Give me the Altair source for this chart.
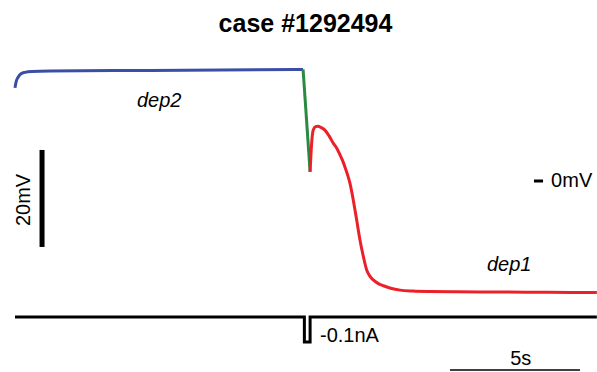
import altair as alt
import pandas as pd

# ---- voltage trace (time in s, membrane potential in mV) ----
blue_t = [0.0, 0.04, 0.12, 0.23, 0.38, 0.65, 1.35, 5.2, 11.08]
blue_v = [19.2, 20.4, 21.4, 22.1, 22.4, 22.6, 22.7, 22.8, 23.0]
green_t = [11.08, 11.35]
green_v = [23.0, 1.9]
red_t = [11.35, 11.41, 11.47, 11.56, 11.65, 11.78, 11.92, 12.08, 12.24, 12.38, 12.5, 12.6,
         12.69, 12.79, 12.88, 13.01, 13.14, 13.27, 13.4, 13.53, 13.65, 13.78, 13.96,
         14.17, 14.45, 14.81, 15.3, 15.96, 17.0, 18.65, 20.5, 22.38]
red_v = [1.9, 7.8, 10.5, 11.2, 11.3, 11.0, 10.5, 9.3, 7.8, 6.7, 5.4, 4.2,
         2.9, 1.3, -0.4, -3.9, -8.0, -12.2, -15.6, -18.4, -19.6, -20.4, -21.1,
         -21.6, -22.1, -22.5, -22.7, -22.8, -22.85, -22.9, -22.95, -23.0]

# ---- injected current (nA) ----
cur_t = [0.0, 11.13, 11.13, 11.35, 11.35, 22.38]
cur_i = [0.0, 0.0, -0.1, -0.1, 0.0, 0.0]

# ---- scale bars / labels ----
mv_bar_t = 1.04
mv_bar_v = [6.4, -13.6]
zero_tick_t = [19.96, 20.31]
sbar_t = [16.73, 21.73]
sbar_i = -0.212

seg_names = ["dep2", "step", "dep1"]
seg_colors = ["#3a4ea6", "#2a8a40", "#ec2028"]

rows = []
k = 0
for name, ts, vs in zip(seg_names, [blue_t, green_t, red_t], [blue_v, green_v, red_v]):
    for t, v in zip(ts, vs):
        rows.append({"t": t, "v": v, "seg": name, "k": k})
        k += 1
vdf = pd.DataFrame(rows)
cdf = pd.DataFrame({"t": cur_t, "i": cur_i, "k": list(range(len(cur_t)))})

W, H = 597, 327
xs = alt.Scale(domain=[-0.577, 22.385], nice=False, zero=False)
vsc = alt.Scale(domain=[-39.38, 28.04], nice=False, zero=False)
isc = alt.Scale(domain=[-0.22, 1.088], nice=False, zero=False)
FONT = "Liberation Sans"
FS = 20

X = lambda f: alt.X(f, type="quantitative", scale=xs, axis=None)
YV = lambda f: alt.Y(f, type="quantitative", scale=vsc, axis=None)
YI = lambda f: alt.Y(f, type="quantitative", scale=isc, axis=None)

volt = alt.Chart(vdf).mark_line(strokeWidth=3, interpolate="monotone").encode(
    x=X("t"), y=YV("v"),
    color=alt.Color("seg:N", scale=alt.Scale(domain=seg_names, range=seg_colors), legend=None),
    detail="seg:N",
    order="k:Q",
)

mvbar = alt.Chart(pd.DataFrame({"t": [mv_bar_t], "v1": [mv_bar_v[0]], "v2": [mv_bar_v[1]]})).mark_rule(
    strokeWidth=5, color="black").encode(x=X("t"), y=YV("v1"), y2="v2")

ztick = alt.Chart(pd.DataFrame({"t1": [zero_tick_t[0]], "t2": [zero_tick_t[1]], "v": [0.0]})).mark_rule(
    strokeWidth=3, color="black").encode(x=X("t1"), x2="t2", y=YV("v"))

vtext_it = alt.Chart(pd.DataFrame({"t": [4.69, 18.15], "v": [16.5, -17.3], "txt": ["dep2", "dep1"]})).mark_text(
    align="left", baseline="middle", fontSize=FS, fontStyle="italic", font=FONT, color="black"
).encode(x=X("t"), y=YV("v"), text="txt:N")
vtext_n = alt.Chart(pd.DataFrame({"t": [20.62], "v": [0.0], "txt": ["0mV"]})).mark_text(
    align="left", baseline="middle", fontSize=FS, font=FONT, color="black"
).encode(x=X("t"), y=YV("v"), text="txt:N")
mvlabel = alt.Chart(pd.DataFrame({"t": [0.33], "v": [-3.9], "txt": ["20mV"]})).mark_text(
    align="center", baseline="middle", fontSize=FS, font=FONT, angle=270, color="black"
).encode(x=X("t"), y=YV("v"), text="txt:N")

cur = alt.Chart(cdf).mark_line(strokeWidth=3, color="black", strokeJoin="miter").encode(
    x=X("t"), y=YI("i"), order="k:Q")
sbar = alt.Chart(pd.DataFrame({"t1": [sbar_t[0]], "t2": [sbar_t[1]], "i": [sbar_i]})).mark_rule(
    strokeWidth=1.5, color="black").encode(x=X("t1"), x2="t2", y=YI("i"))
itext1 = alt.Chart(pd.DataFrame({"t": [11.73], "i": [-0.076], "txt": ["-0.1nA"]})).mark_text(
    align="left", baseline="middle", fontSize=FS, font=FONT, color="black"
).encode(x=X("t"), y=YI("i"), text="txt:N")
itext2 = alt.Chart(pd.DataFrame({"t": [19.45], "i": [-0.168], "txt": ["5s"]})).mark_text(
    align="center", baseline="middle", fontSize=FS, font=FONT, color="black"
).encode(x=X("t"), y=YI("i"), text="txt:N")

chart = alt.layer(volt, mvbar, ztick, vtext_it, vtext_n, mvlabel, cur, sbar, itext1, itext2).resolve_scale(
    y="independent"
).properties(
    width=W, height=H,
    background="white",
    title=alt.TitleParams("case #1292494", fontSize=25, fontWeight="bold", font=FONT,
                          anchor="middle", offset=8, dx=7, color="black"),
    autosize=alt.AutoSizeParams(type="none"),
    padding={"left": 0, "right": 0, "top": 45, "bottom": 0},
).configure_view(stroke=None)

chart.save("out.html", embed_options={"renderer": "svg", "actions": False})
